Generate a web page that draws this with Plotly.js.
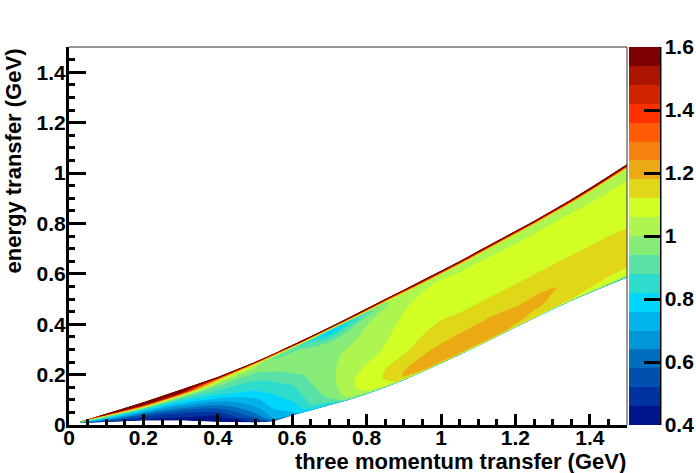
<!DOCTYPE html>
<html><head><meta charset="utf-8">
<script src="https://cdn.plot.ly/plotly-3.0.1.min.js"></script>
<style>html,body{margin:0;padding:0;background:#fff}#c{width:696px;height:473px}</style>
</head><body><div id="c"></div>
<script>
const qValues = [0.03,0.1,0.2,0.3,0.4,0.5,0.55,0.6,0.65,0.7,0.75,0.8,0.85,0.9,0.95,1,1.05,1.1,1.15,1.2,1.25,1.3,1.35,1.4,1.45,1.5];
const upperEdge = [0.014,0.045,0.09,0.14,0.19,0.25,0.283,0.317,0.352,0.388,0.425,0.462,0.5,0.537,0.574,0.612,0.65,0.69,0.73,0.77,0.81,0.852,0.895,0.94,0.987,1.035];
const lowerEdge = [0.008,0.012,0.018,0.018,0.012,0.01,0.014,0.038,0.058,0.078,0.098,0.122,0.149,0.178,0.21,0.244,0.278,0.313,0.35,0.387,0.423,0.458,0.492,0.524,0.555,0.585];
const bandFractions = [0,0.008,0.02,0.05,0.1,0.2,0.3,0.4,0.5,0.6,0.7,0.8,0.88,0.93,0.96,0.98,0.99,1];
// one row per qValues entry, one value per bandFractions entry
const ratioByQ = [
[0.60,0.60,0.60,0.62,0.64,0.70,0.76,0.82,0.88,0.94,1.00,1.10,1.20,1.30,1.40,1.50,1.60,1.70],
[0.50,0.50,0.50,0.52,0.54,0.60,0.68,0.76,0.84,0.92,1.02,1.25,1.60,1.68,1.70,1.70,1.70,1.70],
[0.42,0.42,0.43,0.45,0.48,0.52,0.58,0.66,0.74,0.84,1.00,1.35,1.65,1.70,1.70,1.70,1.70,1.70],
[0.40,0.40,0.41,0.42,0.46,0.50,0.56,0.64,0.72,0.80,0.88,1.05,1.50,1.65,1.70,1.70,1.70,1.70],
[0.40,0.40,0.40,0.41,0.44,0.50,0.58,0.66,0.74,0.82,0.88,0.94,1.02,1.15,1.35,1.55,1.65,1.75],
[0.46,0.47,0.48,0.52,0.60,0.67,0.72,0.76,0.81,0.85,0.885,0.93,0.98,1.02,1.10,1.30,1.55,1.75],
[0.60,0.62,0.65,0.70,0.73,0.765,0.795,0.82,0.855,0.885,0.925,0.965,0.97,0.93,1.00,1.25,1.50,1.75],
[0.72,0.73,0.74,0.76,0.78,0.82,0.85,0.87,0.90,0.94,0.97,0.98,0.96,0.90,0.96,1.25,1.58,1.78],
[0.78,0.80,0.82,0.86,0.89,0.91,0.93,0.945,0.96,0.97,0.975,0.97,0.92,0.85,0.92,1.25,1.58,1.78],
[0.72,0.78,0.84,0.90,0.945,0.97,0.98,0.985,0.985,0.98,0.97,0.95,0.85,0.78,0.84,1.25,1.58,1.78],
[0.80,0.90,0.98,1.01,1.03,1.04,1.04,1.03,1.02,1.01,0.985,0.97,0.91,0.82,0.88,1.30,1.60,1.78],
[0.85,0.95,1.00,1.06,1.09,1.10,1.07,1.05,1.035,1.025,1.015,1.00,0.97,0.91,0.94,1.30,1.60,1.80],
[0.70,1.00,1.06,1.10,1.125,1.12,1.09,1.07,1.058,1.05,1.04,1.03,1.01,0.99,1.00,1.30,1.60,1.80],
[0.65,1.05,1.16,1.185,1.18,1.15,1.115,1.095,1.085,1.075,1.065,1.055,1.04,1.03,1.04,1.32,1.60,1.80],
[0.65,1.08,1.18,1.20,1.195,1.175,1.14,1.12,1.105,1.09,1.08,1.07,1.058,1.04,1.03,1.35,1.62,1.80],
[0.65,1.10,1.19,1.21,1.21,1.185,1.15,1.13,1.115,1.10,1.09,1.08,1.07,1.05,1.04,1.35,1.62,1.80],
[0.65,1.10,1.19,1.21,1.215,1.19,1.155,1.13,1.11,1.09,1.08,1.07,1.06,1.05,1.04,1.35,1.62,1.80],
[0.65,1.10,1.19,1.215,1.215,1.195,1.155,1.13,1.11,1.09,1.08,1.07,1.06,1.05,1.04,1.35,1.62,1.80],
[0.65,1.10,1.19,1.21,1.215,1.195,1.155,1.13,1.11,1.09,1.08,1.07,1.058,1.04,1.03,1.35,1.62,1.80],
[0.65,1.10,1.17,1.19,1.21,1.185,1.15,1.13,1.11,1.09,1.08,1.07,1.058,1.04,1.03,1.35,1.62,1.80],
[0.65,1.08,1.15,1.165,1.19,1.19,1.15,1.13,1.11,1.09,1.08,1.07,1.058,1.04,1.03,1.35,1.62,1.80],
[0.65,1.06,1.14,1.15,1.17,1.185,1.15,1.13,1.11,1.09,1.08,1.07,1.058,1.04,1.03,1.35,1.62,1.80],
[0.65,1.05,1.12,1.14,1.16,1.165,1.15,1.13,1.11,1.09,1.08,1.07,1.058,1.04,1.03,1.35,1.62,1.80],
[0.65,1.03,1.08,1.12,1.15,1.16,1.15,1.13,1.11,1.09,1.08,1.07,1.055,1.04,1.03,1.35,1.62,1.80],
[0.65,1.00,1.06,1.10,1.14,1.16,1.15,1.13,1.11,1.09,1.08,1.07,1.055,1.04,1.03,1.35,1.62,1.80],
[0.65,0.98,1.05,1.09,1.13,1.16,1.15,1.125,1.11,1.09,1.08,1.07,1.055,1.04,1.03,1.35,1.62,1.80]
];
const bandColors = ['#00148c','#0032a0','#0050af','#006ebe','#0096d7','#00b4eb','#00d7fa','#2ddccd','#5ae1a5','#87eb78','#aff550','#d2ff23','#e1d719','#ebaa14','#f5820f','#ff5a05','#ff3200','#d22300','#aa1400','#7d0000'];
const zStart = 0.4, zEnd = 1.6, zStep = 0.06;
const tickFont = {family:'"Liberation Sans", Arial, sans-serif', size:21, weight:700, color:'#000'};
const titleFont = {family:'"Liberation Sans", Arial, sans-serif', size:22, weight:700, color:'#000'};

const n = bandColors.length;
const colorscale = [];
bandColors.forEach((c,i)=>{colorscale.push([i/n,c]);colorscale.push([(i+1)/n,c]);});
const gridX = bandFractions.map(()=>qValues);
const gridY = bandFractions.map(f=>qValues.map((q,i)=>lowerEdge[i]+f*(upperEdge[i]-lowerEdge[i])));
const gridZ = bandFractions.map((f,j)=>qValues.map((q,i)=>ratioByQ[i][j]));

const traces = [
 {type:'carpet',carpet:'band',a:qValues,b:bandFractions,x:gridX,y:gridY,
  aaxis:{smoothing:0,showgrid:false,startline:false,endline:false,showticklabels:'none',minorgridcount:0,ticks:''},
  baxis:{smoothing:0,showgrid:false,startline:false,endline:false,showticklabels:'none',minorgridcount:0,ticks:''}},
 {type:'contourcarpet',carpet:'band',a:qValues,b:bandFractions,z:gridZ,
  autocontour:false,zmin:zStart,zmax:zEnd,
  contours:{start:zStart,end:zEnd,size:zStep,coloring:'fill',showlines:false},
  line:{width:0},colorscale:colorscale,
  colorbar:{x:1.0036,xanchor:'left',xpad:0,y:0.5,yanchor:'middle',ypad:0,len:1,thickness:31,
    outlinewidth:0,ticks:'inside',ticklen:16,tickwidth:3,tickcolor:'#000',tickmode:'array',
    tickvals:[0.4,0.6,0.8,1,1.2,1.4,1.6],ticktext:['0.4','0.6','0.8','1','1.2','1.4','1.6'],tickfont:tickFont}}
];
const axisCommon = {showgrid:false,zeroline:false,showline:true,linewidth:3,linecolor:'#000',ticks:'inside',tickwidth:2.5,tickcolor:'#000',tickfont:tickFont,
  minor:{ticks:'inside',dtick:0.05,ticklen:6,tickwidth:2.5,tickcolor:'#000',showgrid:false}};
const layout = {
 width:696,height:473,margin:{l:69,r:69,t:47,b:48,autoexpand:false},paper_bgcolor:'#fff',plot_bgcolor:'#fff',showlegend:false,
 xaxis:Object.assign({},axisCommon,{range:[0,1.5],dtick:0.2,tick0:0,ticklen:11,ticklabelstandoff:-8}),
 yaxis:Object.assign({},axisCommon,{range:[0,1.5],dtick:0.2,tick0:0,ticklen:17,ticklabelstandoff:-4}),
 annotations:[
  {text:'three momentum transfer (GeV)',xref:'paper',yref:'paper',x:1,y:0,xanchor:'right',yanchor:'top',yshift:-23,borderpad:0,showarrow:false,font:titleFont},
  {text:'energy transfer (GeV)',xref:'paper',yref:'paper',x:0,y:1,xanchor:'center',yanchor:'top',xshift:-56,textangle:-90,showarrow:false,font:titleFont}
 ],
 shapes:[
  {type:'line',xref:'paper',yref:'paper',x0:0,x1:1,y0:1,y1:1,line:{color:'#333',width:1}},
  {type:'line',xref:'paper',yref:'paper',x0:1,x1:1,y0:0,y1:1,line:{color:'#333',width:1}},
  {type:'line',xref:'paper',yref:'paper',x0:1.0591,x1:1.0591,y0:0,y1:1,line:{color:'#000',width:3}}
 ]
};
Plotly.newPlot('c',traces,layout,{displayModeBar:false,responsive:false});
</script></body></html>
